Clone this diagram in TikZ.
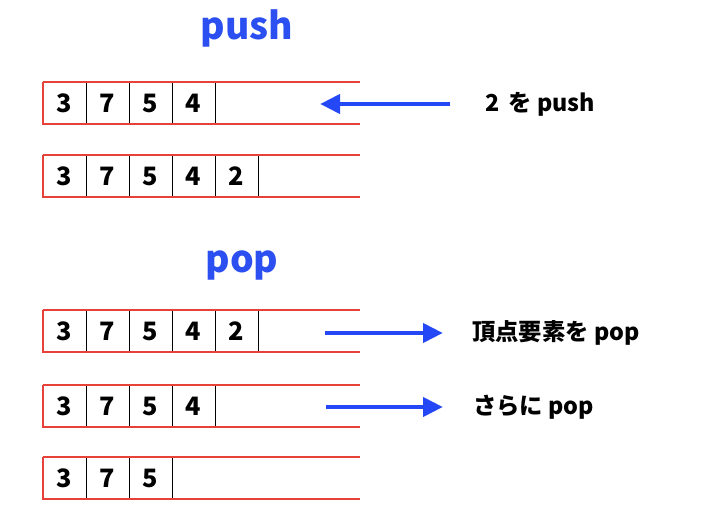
\documentclass[tikz,border=0pt]{standalone}
\usepackage{fontspec}
\setmainfont{Noto Sans CJK JP}
\usetikzlibrary{arrows.meta}

\definecolor{stackred}{RGB}{232,65,58}
\definecolor{arrowblue}{RGB}{36,72,245}
\definecolor{titleblue}{RGB}{43,79,240}

\begin{document}
\begin{tikzpicture}[x=0.75pt,y=0.75pt,yscale=-1,xscale=1,
  cell/.style={inner sep=0pt,minimum width=32.25pt,minimum height=31pt,font=\fontsize{19}{21}\selectfont\bfseries},
  sep/.style={draw=black,line width=0.6pt},
  stk/.style={draw=stackred,line width=1.3pt},
  arr/.style={draw=arrowblue,line width=3.6pt,-{Triangle[length=15pt,width=14pt]}},
  lbl/.style={anchor=west,inner sep=0.75pt,font=\fontsize{17.5}{19}\selectfont\bfseries},
  ttl/.style={inner sep=0.75pt,text=titleblue,font=\fontsize{28}{30}\selectfont\bfseries}]
\useasboundingbox (0,0) rectangle (703,516);

% Title push
\node[ttl] (tpush) at (247,28) {push};

% Row 1
\node[cell] (a1) at (64.5,103) {3};
\node[cell] (a2) at (107.5,103) {7};
\node[cell] (a3) at (150.5,103) {5};
\node[cell] (a4) at (193.5,103) {4};
\draw[sep] (a1.north east) -- (a1.south east);
\draw[sep] (a2.north east) -- (a2.south east);
\draw[sep] (a3.north east) -- (a3.south east);
\draw[sep] (a4.north east) -- (a4.south east);
\draw[stk] (a1.north west) -- ++(317,0);
\draw[stk] (a1.north west) -- (a1.south west) -- ++(317,0);

% Row 2
\node[cell] (b1) at (64.5,176) {3};
\node[cell] (b2) at (107.5,176) {7};
\node[cell] (b3) at (150.5,176) {5};
\node[cell] (b4) at (193.5,176) {4};
\node[cell] (b5) at (236.5,176) {2};
\draw[sep] (b1.north east) -- (b1.south east);
\draw[sep] (b2.north east) -- (b2.south east);
\draw[sep] (b3.north east) -- (b3.south east);
\draw[sep] (b4.north east) -- (b4.south east);
\draw[sep] (b5.north east) -- (b5.south east);
\draw[stk] (b1.north west) -- ++(317,0);
\draw[stk] (b1.north west) -- (b1.south west) -- ++(317,0);

% push arrow
\coordinate (pushs) at (450,104);
\coordinate (pushe) at (320,104);
\draw[arr] (pushs) -- (pushe);
\node[lbl] (lpush) at (484,104) {2\, を push};

% Title pop
\node[ttl] (tpop) at (242,265) {pop};

% Row 3
\node[cell] (c1) at (64.5,331) {3};
\node[cell] (c2) at (107.5,331) {7};
\node[cell] (c3) at (150.5,331) {5};
\node[cell] (c4) at (193.5,331) {4};
\node[cell] (c5) at (236.5,331) {2};
\draw[sep] (c1.north east) -- (c1.south east);
\draw[sep] (c2.north east) -- (c2.south east);
\draw[sep] (c3.north east) -- (c3.south east);
\draw[sep] (c4.north east) -- (c4.south east);
\draw[sep] (c5.north east) -- (c5.south east);
\draw[stk] (c1.north west) -- ++(317,0);
\draw[stk] (c1.north west) -- (c1.south west) -- ++(317,0);

% Row 4
\node[cell] (d1) at (64.5,406) {3};
\node[cell] (d2) at (107.5,406) {7};
\node[cell] (d3) at (150.5,406) {5};
\node[cell] (d4) at (193.5,406) {4};
\draw[sep] (d1.north east) -- (d1.south east);
\draw[sep] (d2.north east) -- (d2.south east);
\draw[sep] (d3.north east) -- (d3.south east);
\draw[sep] (d4.north east) -- (d4.south east);
\draw[stk] (d1.north west) -- ++(317,0);
\draw[stk] (d1.north west) -- (d1.south west) -- ++(317,0);

% Row 5
\node[cell] (e1) at (64.5,478) {3};
\node[cell] (e2) at (107.5,478) {7};
\node[cell] (e3) at (150.5,478) {5};
\draw[sep] (e1.north east) -- (e1.south east);
\draw[sep] (e2.north east) -- (e2.south east);
\draw[sep] (e3.north east) -- (e3.south east);
\draw[stk] (e1.north west) -- ++(317,0);
\draw[stk] (e1.north west) -- (e1.south west) -- ++(317,0);

% pop arrows
\coordinate (pop1s) at (325,333);
\coordinate (pop1e) at (443,333);
\draw[arr] (pop1s) -- (pop1e);
\node[lbl] (lpop1) at (471,333) {頂点要素を pop};
\coordinate (pop2s) at (326,407);
\coordinate (pop2e) at (443,407);
\draw[arr] (pop2s) -- (pop2e);
\node[lbl] (lpop2) at (472,407) {さらに pop};

\end{tikzpicture}
\end{document}
